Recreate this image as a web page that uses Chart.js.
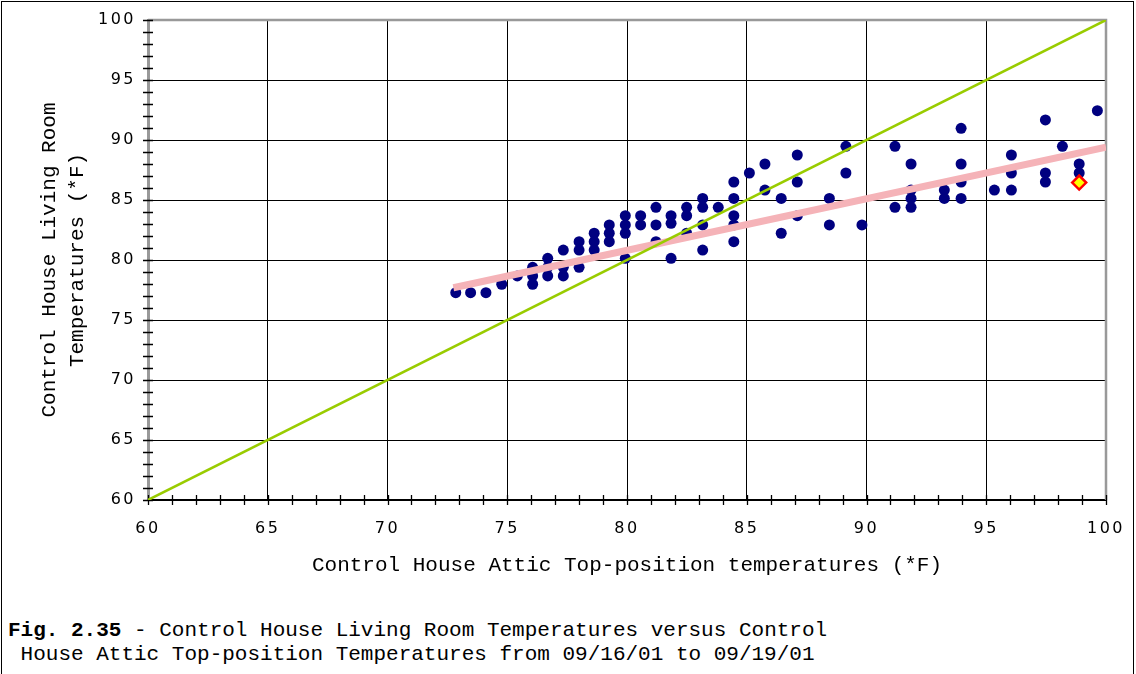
<!DOCTYPE html>
<html>
<head>
<meta charset="utf-8">
<script src="https://cdn.jsdelivr.net/npm/chart.js@4.4.1/dist/chart.umd.min.js"></script>
<style>
  body { margin: 0; background: #fff; }
  #frame { position: absolute; left: 1px; top: 1px; width: 1131px; height: 700px; border: 1px solid #000; border-bottom: none; }
  #wrap { position: absolute; left: 0; top: 0; width: 1136px; height: 600px; }
  #caption { position: absolute; left: 8px; top: 619px; font: 21px "Liberation Mono", monospace; line-height: 24px; white-space: pre; color: #000; }
  #caption b { font-weight: bold; }
</style>
</head>
<body>
<div id="frame"></div>
<div id="wrap"><canvas id="chart" width="1136" height="600"></canvas></div>
<div id="caption"><b>Fig. 2.35</b> - Control House Living Room Temperatures versus Control
 House Attic Top-position Temperatures from 09/16/01 to 09/19/01</div>
<script>
// attic top-position temperature (*F) vs living room temperature (*F)
const atticTemps = [
  72.85, 73.47, 74.11, 74.77, 75.42,
  76.06, 76.06, 76.06,
  76.69, 76.69, 76.69,
  77.34, 77.34, 77.34,
  78.0, 78.0, 78.0,
  78.63, 78.63, 78.63,
  79.26, 79.26, 79.26,
  79.93, 79.93, 79.93, 79.93,
  80.57, 80.57,
  81.21, 81.21, 81.21,
  81.84, 81.84, 81.84,
  82.49, 82.49, 82.49,
  83.16, 83.16, 83.16, 83.16,
  83.81,
  84.46, 84.46, 84.46, 84.46, 84.46,
  85.11,
  85.76, 85.76,
  86.44, 86.44,
  87.11, 87.11, 87.11,
  88.45, 88.45,
  89.14, 89.14,
  89.81,
  91.19, 91.19,
  91.86, 91.86, 91.86, 91.86,
  93.25, 93.25,
  93.95, 93.95, 93.95, 93.95,
  95.34,
  96.05, 96.05, 96.05,
  97.47, 97.47, 97.47,
  98.18,
  98.88, 98.88,
  99.64
];
const livingTemps = [
  77.28, 77.28, 77.28, 77.98, 78.67,
  79.39, 78.67, 77.98,
  80.14, 79.39, 78.67,
  80.83, 79.39, 78.67,
  81.53, 80.83, 79.39,
  82.23, 81.53, 80.83,
  82.92, 82.23, 81.53,
  83.69, 82.92, 82.23, 80.14,
  83.69, 82.92,
  84.39, 82.92, 81.53,
  83.69, 83.06, 80.14,
  84.39, 83.69, 82.23,
  85.13, 84.39, 82.92, 80.83,
  84.39,
  86.5, 85.13, 83.69, 82.92, 81.53,
  87.25,
  88.0, 85.83,
  85.13, 82.23,
  88.75, 86.5, 83.69,
  85.13, 82.92,
  89.47, 87.25,
  82.92,
  89.47, 84.39,
  88.0, 85.83, 85.13, 84.39,
  85.83, 85.13,
  90.97, 88.0, 86.5, 85.13,
  85.83,
  88.75, 87.25, 85.83,
  91.67, 87.25, 86.5,
  89.47,
  88.0, 87.25,
  92.44
];
// highlighted point
const markX = [98.88];
const markY = [86.45];
// trend line end points
const trendX = [72.75, 100];
const trendY = [77.69, 89.4];
// equality line
const equalX = [60, 100];
const equalY = [60, 100];

const axisMin = 60, axisMax = 100, majorStep = 5;

const toPoints = (xs, ys) => xs.map((x, i) => ({ x, y: ys[i] }));

const frameAndTicks = {
  id: 'frameAndTicks',
  beforeDatasetsDraw(chart) {
    const { ctx, chartArea: a, scales: { x, y } } = chart;
    ctx.save();
    // top and right border
    ctx.strokeStyle = '#999';
    ctx.lineWidth = 2.5;
    ctx.beginPath();
    ctx.moveTo(a.left, a.top);
    ctx.lineTo(a.right, a.top);
    ctx.lineTo(a.right, a.bottom);
    ctx.stroke();
    // minor ticks crossing the axes
    ctx.strokeStyle = '#000';
    ctx.lineWidth = 1.3;
    ctx.beginPath();
    for (let v = axisMin; v <= axisMax; v++) {
      const px = Math.round(x.getPixelForValue(v)) + 0.5;
      ctx.moveTo(px, a.bottom - 5);
      ctx.lineTo(px, a.bottom + 5);
      const py = Math.round(y.getPixelForValue(v)) + 0.5;
      ctx.moveTo(a.left - 5, py);
      ctx.lineTo(a.left + 5, py);
    }
    ctx.stroke();
    ctx.restore();
  },
  afterDatasetsDraw(chart) {
    chart.ctx.letterSpacing = '2.5px';
  },
  afterDraw(chart) {
    chart.ctx.letterSpacing = '0px';
  }
};

const gridColor = ctx => (ctx.tick && ctx.tick.value % majorStep === 0) ? '#000' : 'rgba(0,0,0,0)';
const tickFont = { family: 'DejaVu Sans', size: 16 };
const titleFont = { family: 'Liberation Mono', size: 21, lineHeight: 1.3 };

new Chart(document.getElementById('chart'), {
  type: 'scatter',
  data: {
    datasets: [
      {
        type: 'line',
        data: toPoints(equalX, equalY),
        borderColor: '#99CC00',
        borderWidth: 2.5,
        pointRadius: 0,
        order: 1
      },
      {
        type: 'line',
        data: toPoints(trendX, trendY),
        borderColor: '#F5B3B8',
        borderWidth: 7,
        pointRadius: 0,
        order: 2
      },
      {
        data: toPoints(atticTemps, livingTemps),
        backgroundColor: '#000080',
        borderColor: '#000080',
        borderWidth: 0,
        pointRadius: 5.5,
        order: 3
      },
      {
        data: toPoints(markX, markY),
        pointStyle: 'rectRot',
        backgroundColor: '#FFFF00',
        borderColor: '#FF0000',
        borderWidth: 2.5,
        pointRadius: 7,
        order: 0
      }
    ]
  },
  options: {
    responsive: false,
    animation: false,
    layout: { padding: { left: 0, right: 30, top: 20, bottom: 0 } },
    plugins: { legend: { display: false }, tooltip: { enabled: false } },
    scales: {
      x: {
        type: 'linear',
        min: axisMin,
        max: axisMax,
        afterFit: s => { s.height = 100; s.paddingLeft = 0; s.paddingRight = 0; },
        ticks: { stepSize: majorStep, color: '#000', font: tickFont, padding: 19, z: 1 },
        grid: { color: gridColor, lineWidth: 1, drawTicks: false },
        border: { color: '#000', width: 2 },
        title: {
          display: true,
          text: 'Control House Attic Top-position temperatures (*F)',
          color: '#000',
          font: { family: 'Liberation Mono', size: 21 },
          padding: { top: 0, bottom: 22 }
        }
      },
      y: {
        type: 'linear',
        min: axisMin,
        max: axisMax,
        afterFit: s => { s.width = 148; s.paddingTop = 0; s.paddingBottom = 0; },
        ticks: { stepSize: majorStep, color: '#000', font: tickFont, padding: 12, z: 1 },
        grid: { color: gridColor, lineWidth: 1, drawTicks: false },
        border: { color: '#999', width: 3 },
        title: {
          display: true,
          text: ['Control House Living Room', 'Temperatures (*F)'],
          color: '#000',
          font: titleFont,
          padding: { top: 36, bottom: 0 }
        }
      }
    }
  },
  plugins: [frameAndTicks]
});
</script>
</body>
</html>
